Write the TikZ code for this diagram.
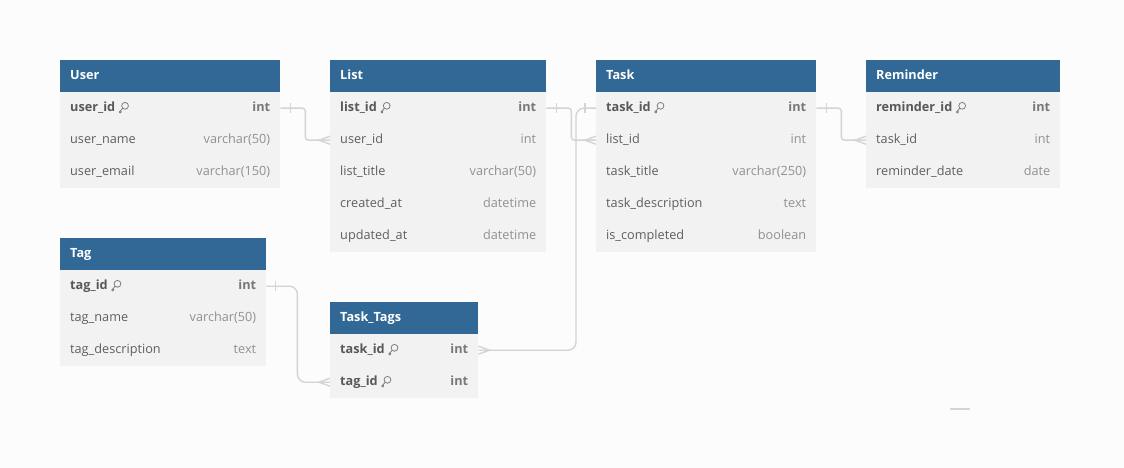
\documentclass[tikz,border=0pt]{standalone}
\usepackage{fontspec}
\setmainfont{Open Sans}
\definecolor{bgcol}{RGB}{252,252,252}
\definecolor{hdrblue}{RGB}{49,104,150}
\definecolor{rowgray}{RGB}{242,242,242}
\definecolor{fieldcol}{RGB}{95,95,95}
\definecolor{typecol}{RGB}{145,145,145}
\definecolor{keyfield}{RGB}{88,88,88}
\definecolor{keytype}{RGB}{120,120,120}
\definecolor{conncol}{RGB}{212,212,212}
\definecolor{barcol}{RGB}{208,212,224}
\tikzset{
  hdrbox/.style={rectangle, fill=hdrblue, draw=none, minimum height=32pt, inner sep=0pt, anchor=north west},
  rowbox/.style={rectangle, fill=rowgray, draw=none, minimum height=32pt, inner sep=0pt, anchor=north west},
  txt/.style={inner sep=0pt, text height=9.5pt, text depth=3pt, font=\fontsize{12.7}{15}\selectfont},
  hdrtext/.style={txt, text=white, anchor=west, font=\fontsize{12.7}{15}\selectfont\bfseries},
  fieldtext/.style={txt, text=fieldcol, anchor=west},
  typetext/.style={txt, text=typecol, anchor=east},
  keyfieldtext/.style={txt, text=keyfield, anchor=west, font=\fontsize{12.7}{15}\selectfont\bfseries},
  keytypetext/.style={txt, text=keytype, anchor=east, font=\fontsize{12.7}{15}\selectfont\bfseries},
  conn/.style={draw=conncol, line width=1.4pt},
  keyicon/.pic={
    \draw[keytype, line width=0.75pt] (5.6,-2.4) circle (3.4pt);
    \draw[keytype, line width=0.75pt, line join=round] (3.2,0.2) -- (-0.2,3.8) -- (0.9,4.9) -- (1.8,4.0);
    \draw[keytype, line width=0.75pt] (0.9,2.6) -- (2.0,3.7);
  }
}
\newcommand{\ErHead}[5]{%
  \node[hdrbox, minimum width=#4pt] (#1) at (#2,#3) {};
  \node[hdrtext] (#1-t) at ([xshift=10pt]#1.west) {#5};
}
\newcommand{\ErRow}[6]{%
  \node[rowbox, minimum width=#4pt] (#1) at (#2,#3) {};
  \node[fieldtext] (#1-f) at ([xshift=10pt]#1.west) {#5};
  \node[typetext] (#1-y) at ([xshift=-10pt]#1.east) {#6};
}
\newcommand{\ErKey}[6]{%
  \node[rowbox, minimum width=#4pt] (#1) at (#2,#3) {};
  \node[keyfieldtext] (#1-f) at ([xshift=10pt]#1.west) {#5};
  \node[keytypetext] (#1-y) at ([xshift=-10pt]#1.east) {#6};
  \pic at ([xshift=4pt]#1-f.east) {keyicon};
}
\begin{document}
\begin{tikzpicture}[x=1pt,y=-1pt]
\fill[bgcol] (0,0) rectangle (1124,468);
\useasboundingbox (0,0) rectangle (1124,468);

% User
\ErHead{uh}{60}{60}{220}{User}
\ErKey{u1}{60}{92}{220}{user\_id}{int}
\ErRow{u2}{60}{124}{220}{user\_name}{varchar(50)}
\ErRow{u3}{60}{156}{220}{user\_email}{varchar(150)}

% List
\ErHead{lh}{330}{60}{216}{List}
\ErKey{l1}{330}{92}{216}{list\_id}{int}
\ErRow{l2}{330}{124}{216}{user\_id}{int}
\ErRow{l3}{330}{156}{216}{list\_title}{varchar(50)}
\ErRow{l4}{330}{188}{216}{created\_at}{datetime}
\ErRow{l5}{330}{220}{216}{updated\_at}{datetime}

% Task
\ErHead{th}{596}{60}{220}{Task}
\ErKey{t1}{596}{92}{220}{task\_id}{int}
\ErRow{t2}{596}{124}{220}{list\_id}{int}
\ErRow{t3}{596}{156}{220}{task\_title}{varchar(250)}
\ErRow{t4}{596}{188}{220}{task\_description}{text}
\ErRow{t5}{596}{220}{220}{is\_completed}{boolean}

% Reminder
\ErHead{rh}{866}{60}{194}{Reminder}
\ErKey{r1}{866}{92}{194}{reminder\_id}{int}
\ErRow{r2}{866}{124}{194}{task\_id}{int}
\ErRow{r3}{866}{156}{194}{reminder\_date}{date}

% Tag
\ErHead{gh}{60}{238}{206}{Tag}
\ErKey{g1}{60}{270}{206}{tag\_id}{int}
\ErRow{g2}{60}{302}{206}{tag\_name}{varchar(50)}
\ErRow{g3}{60}{334}{206}{tag\_description}{text}

% Task_Tags
\ErHead{xh}{330}{302}{148}{Task\_Tags}
\ErKey{x1}{330}{334}{148}{task\_id}{int}
\ErKey{x2}{330}{366}{148}{tag\_id}{int}

% connectors
\draw[conn, rounded corners=3pt] (u1.east) -- ++(25,0) |- (l2.west);
\draw[conn] ([xshift=10pt,yshift=5pt]u1.east) -- ([xshift=10pt,yshift=-5pt]u1.east);
\draw[conn] ([yshift=4pt]l2.west) -- ([xshift=-11pt]l2.west) -- ([yshift=-4pt]l2.west);

\draw[conn, rounded corners=3pt] (l1.east) -- ++(25,0) |- (t2.west);
\draw[conn] ([xshift=10pt,yshift=5pt]l1.east) -- ([xshift=10pt,yshift=-5pt]l1.east);
\draw[conn] ([yshift=4pt]t2.west) -- ([xshift=-11pt]t2.west) -- ([yshift=-4pt]t2.west);

\draw[conn, rounded corners=3pt] (t1.east) -- ++(25,0) |- (r2.west);
\draw[conn] ([xshift=10pt,yshift=5pt]t1.east) -- ([xshift=10pt,yshift=-5pt]t1.east);
\draw[conn] ([yshift=4pt]r2.west) -- ([xshift=-11pt]r2.west) -- ([yshift=-4pt]r2.west);

\draw[conn, rounded corners=8pt] (t1.west) -- ++(-20,0) |- (x1.east);
\draw[conn] ([xshift=-11pt,yshift=5pt]t1.west) -- ([xshift=-11pt,yshift=-5pt]t1.west);
\draw[conn] ([yshift=4pt]x1.east) -- ([xshift=11pt]x1.east) -- ([yshift=-4pt]x1.east);

\draw[conn, rounded corners=8pt] (g1.east) -- ++(31,0) |- (x2.west);
\draw[conn] ([xshift=9pt,yshift=5pt]g1.east) -- ([xshift=9pt,yshift=-5pt]g1.east);
\draw[conn] ([yshift=4pt]x2.west) -- ([xshift=-11pt]x2.west) -- ([yshift=-4pt]x2.west);

% stray mark bottom right
\coordinate (m1) at (950,409);
\coordinate (m2) at (970,409);
\draw[barcol, line width=1.2pt] (m1) -- (m2);
\end{tikzpicture}
\end{document}
